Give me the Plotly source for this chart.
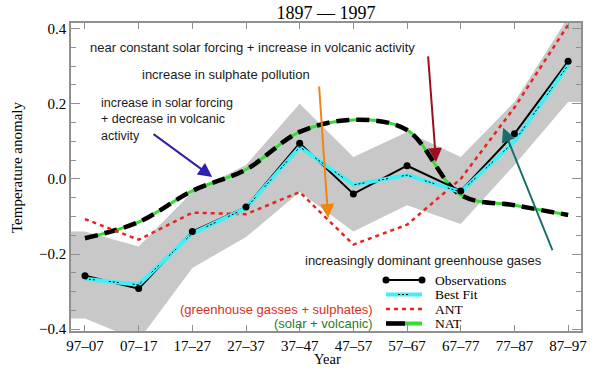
import plotly.graph_objects as go

# ---------------- data ----------------
periods = ["97\u201307", "07\u201317", "17\u201327", "27\u201337", "37\u201347",
           "47\u201357", "57\u201367", "67\u201377", "77\u201387", "87\u201397"]
observations = [-0.258, -0.292, -0.140, -0.075, 0.095, -0.040, 0.035, -0.032, 0.120, 0.313]
best_fit = [-0.266, -0.282, -0.145, -0.078, 0.085, -0.016, 0.010, -0.035, 0.100, 0.303]
ant = [-0.107, -0.162, -0.090, -0.094, -0.035, -0.175, -0.122, 0.000, 0.190, 0.410]
nat = [-0.158, -0.115, -0.032, 0.025, 0.125, 0.157, 0.130, -0.043, -0.070, -0.096]
band_upper = [-0.140, -0.180, -0.035, 0.037, 0.200, 0.058, 0.125, 0.058, 0.205, 0.430]
band_lower = [-0.372, -0.430, -0.237, -0.155, -0.035, -0.140, -0.070, -0.120, 0.037, 0.205]
y_ticks = [-0.4, -0.2, 0.0, 0.2, 0.4]

X_RANGE = [-0.26, 9.24]
Y_RANGE = [-0.405, 0.415]

W, H = 611, 371
# plot area in pixels
L, R, T, B = 71, 581, 23, 331


def px(x):
    return (x - L) / (R - L)


def py(y):
    return (B - y) / (B - T)


xs = list(range(len(periods)))

SERIF = "Liberation Serif, Times New Roman, serif"
SANS = "Liberation Sans, Arial, sans-serif"

GRAY = "rgb(200,200,200)"
CYAN = "#3ff0f8"
RED = "#e8241c"
GREEN = "#33dd33"

fig = go.Figure()

# uncertainty band (extends flat to plot edges)
bx = [X_RANGE[0]] + xs + [X_RANGE[1]]
bu = [band_upper[0]] + band_upper + [band_upper[-1]]
bl = [band_lower[0]] + band_lower + [band_lower[-1]]
fig.add_trace(go.Scatter(x=bx + bx[::-1], y=bu + bl[::-1], fill="toself",
                         fillcolor=GRAY, line=dict(width=0), mode="lines",
                         hoverinfo="skip", showlegend=False))

# NAT: green under black long dashes
fig.add_trace(go.Scatter(x=xs, y=nat, mode="lines", line=dict(color=GREEN, width=3, shape="spline"),
                         showlegend=False))
fig.add_trace(go.Scatter(x=xs, y=nat, mode="lines",
                         line=dict(color="black", width=4.5, dash="13px,7px", shape="spline"),
                         showlegend=False))

# ANT
fig.add_trace(go.Scatter(x=xs, y=ant, mode="lines", line=dict(color=RED, width=2.5, dash="4px,4px"),
                         showlegend=False))

# Observations line
fig.add_trace(go.Scatter(x=xs, y=observations, mode="lines", line=dict(color="black", width=2),
                         showlegend=False))

# Best fit: cyan with black dotted core
fig.add_trace(go.Scatter(x=xs, y=best_fit, mode="lines", line=dict(color=CYAN, width=4),
                         showlegend=False))
fig.add_trace(go.Scatter(x=xs, y=best_fit, mode="lines",
                         line=dict(color="black", width=1, dash="2px,2px,2px,2px,2px,14px"),
                         showlegend=False))

# Observation markers
fig.add_trace(go.Scatter(x=xs, y=observations, mode="markers",
                         marker=dict(color="black", size=7, symbol="circle"),
                         showlegend=False))

annotations = []

# arrows (tail -> head, in data coords)
arrows = [
    (6.39, 0.330, 6.54, 0.045, "#9b1020"),
    (4.36, 0.250, 4.53, -0.104, "#f08512"),
    (1.25, 0.122, 2.37, 0.005, "#3020b0"),
    (8.72, -0.194, 7.79, 0.136, "#1a6b6b"),
]
for tx, ty, hx, hy, col in arrows:
    annotations.append(dict(x=hx, y=hy, ax=tx, ay=ty, xref="x", yref="y", axref="x", ayref="y",
                            text="", showarrow=True, arrowhead=2, arrowsize=1.4, arrowwidth=2,
                            arrowcolor=col, standoff=0))


# annotation texts (positions given in pixels)
def txt(s, x, y, anchor="left", color="#1a1a1a", font=SANS, size=13, align="left"):
    annotations.append(dict(text=s, x=px(x), y=py(y), xref="paper", yref="paper",
                            xanchor=anchor, yanchor="middle", showarrow=False, align=align,
                            font=dict(family=font, size=size, color=color)))


rows = [280, 294.5, 309, 323.5]

txt("near constant solar forcing + increase in volcanic activity", 88, 47)
txt("increase in sulphate pollution", 140, 75)
txt("increase in solar forcing<br>+ decrease in volcanic<br>activity", 99, 119, size=12.5)
txt("increasingly dominant greenhouse gases", 303, 260)
txt("(greenhouse gasses + sulphates)", 375, rows[2], anchor="right", color="#d8301e")
txt("(solar + volcanic)", 375, rows[3], anchor="right", color="#2a7d2a")

# legend (manual)
legend_names = ["Observations", "Best Fit", "ANT", "NAT"]
for name, ry in zip(legend_names, rows):
    txt(name, 433, ry, color="black", font=SERIF, size=13.5)

shapes = []
x0, x1 = px(386), px(422)
# Observations sample
shapes.append(dict(type="line", xref="paper", yref="paper", x0=x0, x1=x1, y0=py(rows[0]), y1=py(rows[0]),
                   line=dict(color="black", width=2)))
for cx in (386, 422):
    shapes.append(dict(type="circle", xref="paper", yref="paper",
                       x0=px(cx - 3.5), x1=px(cx + 3.5), y0=py(rows[0] + 3.5), y1=py(rows[0] - 3.5),
                       fillcolor="black", line=dict(color="black", width=0)))
# Best fit sample
shapes.append(dict(type="line", xref="paper", yref="paper", x0=x0, x1=x1, y0=py(rows[1]), y1=py(rows[1]),
                   line=dict(color=CYAN, width=4)))
shapes.append(dict(type="line", xref="paper", yref="paper", x0=px(398), x1=px(410), y0=py(rows[1]), y1=py(rows[1]),
                   line=dict(color="black", width=1, dash="2px,2px")))
# ANT sample
shapes.append(dict(type="line", xref="paper", yref="paper", x0=x0, x1=x1, y0=py(rows[2]), y1=py(rows[2]),
                   line=dict(color=RED, width=2.5, dash="4px,4px")))
# NAT sample
shapes.append(dict(type="line", xref="paper", yref="paper", x0=x0, x1=x1, y0=py(rows[3]), y1=py(rows[3]),
                   line=dict(color=GREEN, width=4)))
shapes.append(dict(type="line", xref="paper", yref="paper", x0=x0, x1=px(405), y0=py(rows[3]), y1=py(rows[3]),
                   line=dict(color="black", width=4.5)))

# axis titles
annotations.append(dict(text="Temperature anomaly", x=px(17), y=py(168), xref="paper", yref="paper",
                        textangle=-90, showarrow=False, xanchor="center", yanchor="middle",
                        font=dict(family=SERIF, size=15, color="black")))
annotations.append(dict(text="Year", x=px(327), y=py(359), xref="paper", yref="paper",
                        showarrow=False, xanchor="center", yanchor="middle",
                        font=dict(family=SERIF, size=14.5, color="black")))

AXC = "#909090"
fig.update_layout(
    width=W, height=H,
    margin=dict(l=L, r=W - R, t=T, b=H - B),
    paper_bgcolor="white", plot_bgcolor="white",
    showlegend=False,
    title=dict(text="1897 \u2013\u2013 1997", x=0.5, xref="paper", y=1 - 13 / H, yref="container",
               xanchor="center", yanchor="middle",
               font=dict(family=SERIF, size=18, color="black")),
    xaxis=dict(range=X_RANGE, tickmode="array", tickvals=xs, ticktext=periods,
               showgrid=False, zeroline=False, showline=True, linecolor=AXC, linewidth=1.5,
               mirror="allticks", ticks="inside", ticklen=6, tickcolor=AXC, tickwidth=1,
               tickfont=dict(family=SERIF, size=15, color="black")),
    yaxis=dict(range=Y_RANGE, tickmode="array", tickvals=y_ticks, tickformat=".1f",
               showgrid=False, zeroline=False, showline=True, linecolor=AXC, linewidth=1.5,
               mirror="allticks", ticks="inside", ticklen=9, tickcolor=AXC, tickwidth=1,
               minor=dict(ticks="inside", dtick=0.05, ticklen=5, tickcolor=AXC, tickwidth=1, showgrid=False),
               tickfont=dict(family=SERIF, size=15, color="black")),
    annotations=annotations,
    shapes=shapes,
)

# remove the page's default 8px body margin so the figure fills the window exactly
fig.write_html("out.html",
               config={"displayModeBar": False},
               post_script="document.body.style.margin='0';document.body.style.overflow='hidden';")
